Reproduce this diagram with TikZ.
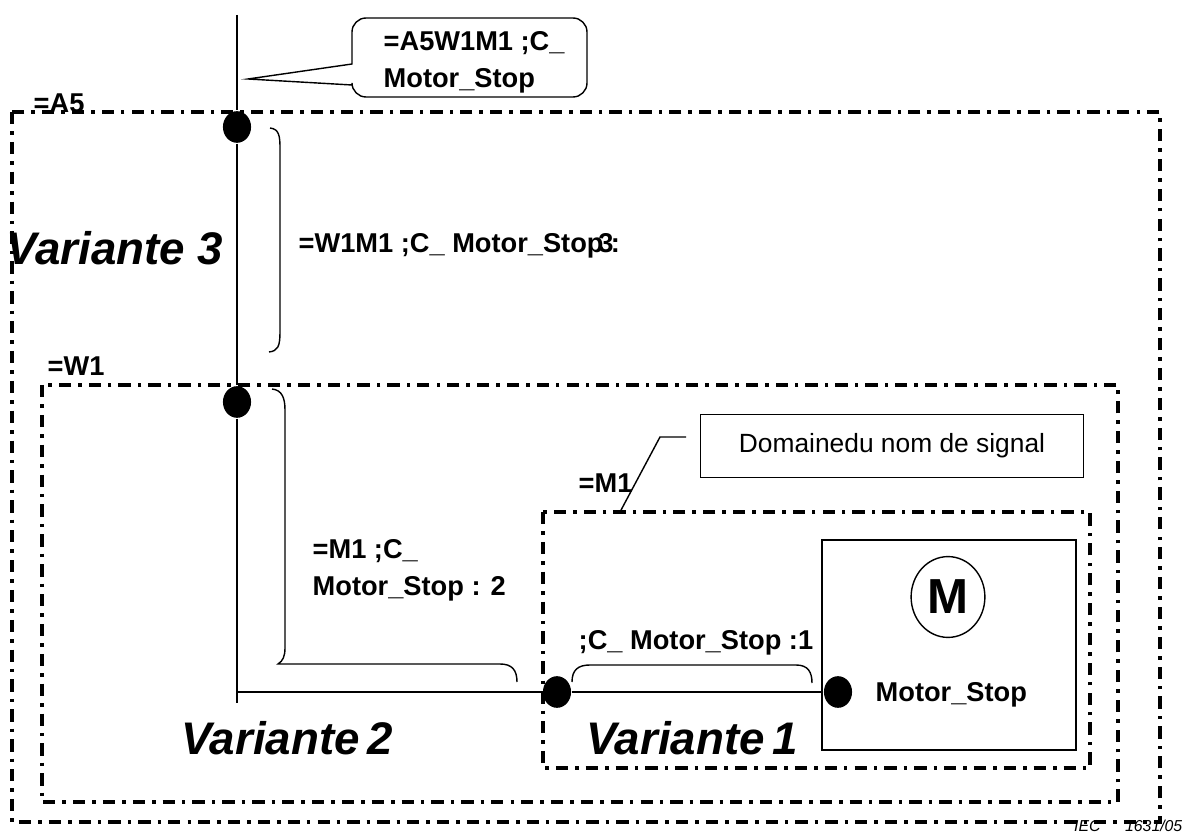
\documentclass[tikz,border=0pt]{standalone}
\usepackage{fontspec}
\setmainfont{Liberation Sans}
\usetikzlibrary{shapes.geometric}

\begin{document}
\begin{tikzpicture}[x=0.02cm, y=-0.02cm, line width=0.8pt,
  lbl/.style={font=\bfseries\fontsize{15.5}{21}\selectfont, inner sep=0pt, align=left},
  var/.style={font=\bfseries\itshape\fontsize{26}{30}\selectfont, inner sep=0pt},
  dot/.style={ellipse, fill, inner sep=0pt, minimum width=16pt, minimum height=18pt},
  frame/.style={line width=2pt, dash pattern=on 7pt off 4pt on 2pt off 4pt}]
  \useasboundingbox (0,0) rectangle (1187,834);
  % Domains
  \draw[frame] (12,112) rectangle (1160,822);
  \draw[frame] (42,385) rectangle (1118,802);
  \draw[frame] (543,512) rectangle (1090,768);
  \node[lbl, anchor=west] (a5) at (33,103) {=A5};
  \node[lbl, anchor=west] (w1) at (47,366) {=W1};
  \node[lbl, anchor=west] (m1) at (578,483) {=M1};
  % Motor
  \draw (822,540) rectangle (1076,750);
  \node[draw, ellipse, minimum width=42pt, minimum height=46pt, inner sep=0pt,
    font=\bfseries\fontsize{28}{30}\selectfont] (mot) at (948,597) {M};
  \node[lbl, anchor=west] (stop) at (875,695) {Motor\_Stop};
  % Signal line
  \coordinate (top) at (237,15);
  \node[dot] (p3) at (237,127) {};
  \node[dot] (p2) at (237,402) {};
  \coordinate (bend) at (237,692);
  \node[dot] (p1) at (557,692) {};
  \node[dot] (p0) at (838,692) {};
  \draw (top) -- (p3) -- (p2) -- (bend) -- (p1) -- (p0);
  \draw (bend) -- ++(0,11);
  % Braces
  \draw (270,128) .. controls (279,129) and (280,136) .. (280,148) -- (280,332)
    .. controls (280,346) and (278,351) .. (269,352);
  \draw (272,389) .. controls (282,390) and (285,398) .. (285,410) -- (285,648)
    .. controls (285,656) and (283,661) .. (278,664) -- (500,664)
    .. controls (512,664) and (517,670) .. (517,682);
  \draw (572,682) .. controls (572,670) and (578,665) .. (590,665) -- (796,665)
    .. controls (808,665) and (812,672) .. (812,683);
  \node[lbl, anchor=west] (n3) at (298,246) {=W1M1 ;C\_ Motor\_Stop\kern-3pt3\kern-1.5pt:};
  \node[lbl, anchor=west] (n2) at (312,570) {=M1 ;C\_\\Motor\_Stop : 2};
  \node[lbl, anchor=west] (n1) at (578,643) {;C\_ Motor\_Stop :1};
  % Variants
  \node[var, anchor=west] (v3) at (6,248) {Variante 3};
  \node[var] (v2) at (287,738) {Variante\,2};
  \node[var] (v1) at (692,738) {Variante\,1};
  % Callout
  \draw (352,64) [rounded corners=8pt] -- (352,18) -- (587,18) -- (587,97) -- (352,97)
    [sharp corners] -- (352,85) -- (248,79) -- cycle;
  \node[lbl, anchor=west] (sig) at (383,62) {=A5W1M1 ;C\_\\Motor\_Stop};
  % Signal name domain
  \node[draw, minimum width=218pt, minimum height=36pt,
    font=\fontsize{15}{17}\selectfont] (dom) at (892,446) {Domainedu nom de signal};
  \coordinate (m1top) at (620,512);
  \coordinate (ld) at (686,437);
  \draw (m1top) -- (660,437) -- (ld);
  \node[font=\itshape\fontsize{9}{10}\selectfont, anchor=east, inner sep=0pt] (iec)
    at (1183,826) {IEC\hspace{14pt}1631/05};
\end{tikzpicture}
\end{document}
